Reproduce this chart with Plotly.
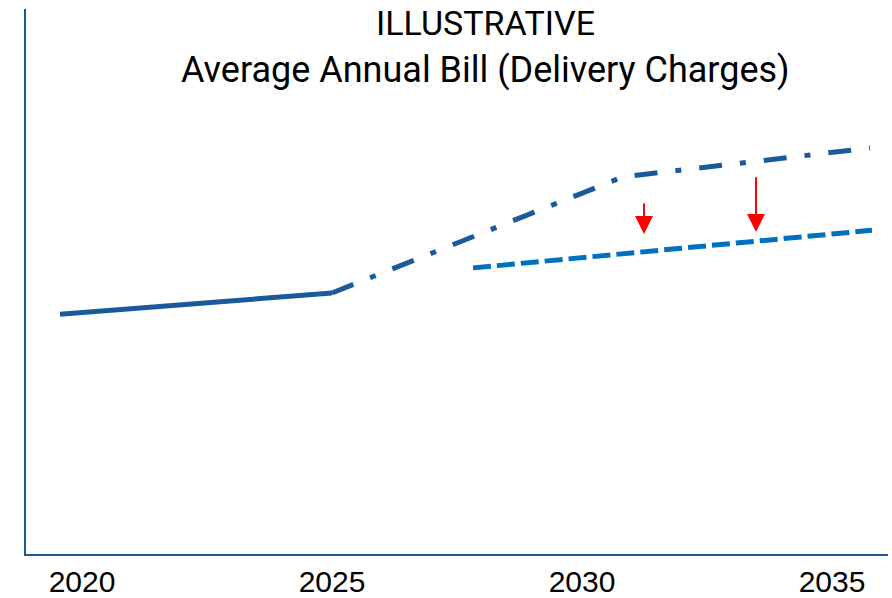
import plotly.graph_objects as go

# ---- data (illustrative, arbitrary units) ----
hist_years = [2019.56, 2025.0]
hist_vals = [44.0, 47.9]

base_years = [2025.0, 2030.82, 2035.76]
base_vals = [47.9, 69.2, 74.5]

reduced_years = [2027.82, 2035.8]
reduced_vals = [52.5, 59.4]

# arrows: (year, start value, tip value)
arrow_years = [2031.24, 2033.48]
arrow_from = [64.6, 69.4]
arrow_to = [58.7, 59.1]

tick_years = [2020, 2025, 2030, 2035]
tick_labels = ["2020", "2025", "2030", "2035"]

title_line1 = "ILLUSTRATIVE"
title_line2 = "Average Annual Bill (Delivery Charges)"

DARK = "#1A5A9A"
LIGHT = "#0070C0"

fig = go.Figure()
fig.add_trace(go.Scatter(x=hist_years, y=hist_vals, mode="lines",
                         line=dict(color=DARK, width=5), showlegend=False, hoverinfo="skip"))
fig.add_trace(go.Scatter(x=base_years, y=base_vals, mode="lines",
                         line=dict(color=DARK, width=5, dash="23px,18px,6px,18px"),
                         showlegend=False, hoverinfo="skip"))
fig.add_trace(go.Scatter(x=reduced_years, y=reduced_vals, mode="lines",
                         line=dict(color=LIGHT, width=5, dash="18px,6px"),
                         showlegend=False, hoverinfo="skip"))

for xa, y0, y1 in zip(arrow_years, arrow_from, arrow_to):
    fig.add_annotation(x=xa, y=y1, ax=xa, ay=y0, xref="x", yref="y", axref="x", ayref="y",
                       text="", showarrow=True, arrowhead=2, arrowsize=1.8, arrowwidth=2,
                       arrowcolor="#FF0000")

fig.add_annotation(x=0.5325, y=0.974, xref="paper", yref="paper", text=title_line1,
                   showarrow=False, xanchor="center", yanchor="middle",
                   font=dict(family="Roboto", size=34, color="#000000"))
fig.add_annotation(x=0.5325, y=0.888, xref="paper", yref="paper", text=title_line2,
                   showarrow=False, xanchor="center", yanchor="middle",
                   font=dict(family="Roboto", size=36, color="#000000"))

fig.update_xaxes(range=[2018.88, 2036.12], tickvals=tick_years, ticktext=tick_labels,
                 showline=True, linecolor=DARK, linewidth=2, showgrid=False, zeroline=False,
                 ticks="", tickfont=dict(family="Liberation Sans, Arial", size=30, color="#000000"),
                 automargin=False)
fig.update_yaxes(range=[0, 100], showline=True, linecolor=DARK, linewidth=2, showgrid=False,
                 zeroline=False, showticklabels=False, ticks="", automargin=False)

fig.update_layout(width=892, height=598, margin=dict(l=26, r=4, t=9, b=44),
                  paper_bgcolor="white", plot_bgcolor="white")

fig.write_html("out.html")
